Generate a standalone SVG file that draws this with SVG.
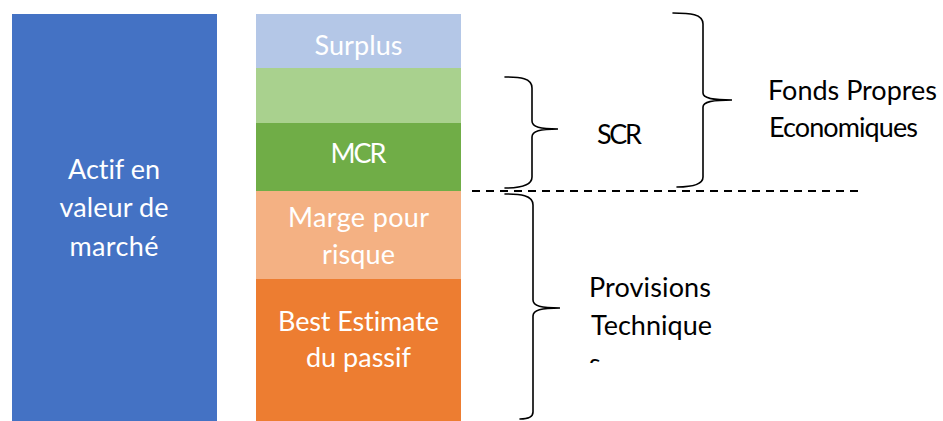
<svg xmlns="http://www.w3.org/2000/svg" width="943" height="421" viewBox="0 0 943 421">
  <style>
    .lbl { font-family: Lato, "Open Sans", "Liberation Sans", sans-serif; font-size: 27px; font-variant-ligatures: none; }
    .in { fill: #FFFFFF; text-anchor: middle; }
    .out { fill: #000000; }
    .brace { fill: none; stroke: #000000; stroke-width: 1.6; stroke-linecap: round; }
    .sep { stroke: #000000; stroke-width: 2; stroke-dasharray: 8 6; }
  </style>
  <defs>
    <clipPath id="clip-cut">
      <rect x="560" y="340" width="200" height="23"/>
    </clipPath>
  </defs>
  <rect width="943" height="421" fill="#FFFFFF"/>

  <!-- Assets column -->
  <g id="actif">
    <rect x="12" y="14" width="205" height="407" fill="#4472C4"/>
    <text class="lbl in" x="114" y="179" textLength="92">Actif en</text>
    <text class="lbl in" x="114" y="217" textLength="109">valeur de</text>
    <text class="lbl in" x="114" y="256" textLength="89">marché</text>
  </g>

  <!-- Liabilities stack -->
  <g id="surplus">
    <rect x="256" y="14" width="205" height="54" fill="#B4C7E7"/>
    <text class="lbl in" x="358.5" y="55" textLength="88">Surplus</text>
  </g>
  <g id="scr-band">
    <rect x="256" y="68" width="205" height="55" fill="#A9D18E"/>
  </g>
  <g id="mcr">
    <rect x="256" y="123" width="205" height="68" fill="#70AD47"/>
    <text class="lbl in" x="358.5" y="163" textLength="56">MCR</text>
  </g>
  <g id="marge">
    <rect x="256" y="191" width="205" height="88" fill="#F4B183"/>
    <text class="lbl in" x="358.5" y="227" textLength="141">Marge pour</text>
    <text class="lbl in" x="358.5" y="264" textLength="73">risque</text>
  </g>
  <g id="best-estimate">
    <rect x="256" y="279" width="205" height="142" fill="#ED7D31"/>
    <text class="lbl in" x="358.5" y="331" textLength="161">Best Estimate</text>
    <text class="lbl in" x="358.5" y="367" textLength="105">du passif</text>
  </g>

  <!-- Braces and separator -->
  <g id="connectors">
    <line class="sep" x1="472" y1="191" x2="858" y2="191"/>
    <path class="brace" d="M505,77 C520,77 532,78 532,88 L532,121 C532,127 540,129 558,129 C540,129 532,131 532,137 L532,177 C532,186 520,188 505,188"/>
    <path class="brace" d="M673,13 C690,13 703,14 703,24 L703,93 C703,98 712,100 732,100 C712,100 703,102 703,107 L703,177 C703,185 690,187 677,187"/>
    <path class="brace" d="M505,194 C520,194 533,195 533,205 L533,300 C533,306 541,308 560,308 C541,308 533,310 533,316 L533,412 C533,418 527,419 520,419"/>
  </g>

  <!-- Side labels -->
  <g id="scr-label">
    <text class="lbl out" x="597" y="144" textLength="45">SCR</text>
  </g>
  <g id="fonds-propres-label">
    <text class="lbl out" x="768" y="100" textLength="169">Fonds Propres</text>
    <text class="lbl out" x="769" y="137" textLength="149">Economiques</text>
  </g>
  <g id="provisions-label">
    <text class="lbl out" x="589" y="297" textLength="122">Provisions</text>
    <text class="lbl out" x="591" y="335" textLength="121">Technique</text>
    <text class="lbl out" x="589" y="373" clip-path="url(#clip-cut)">s</text>
  </g>
</svg>
